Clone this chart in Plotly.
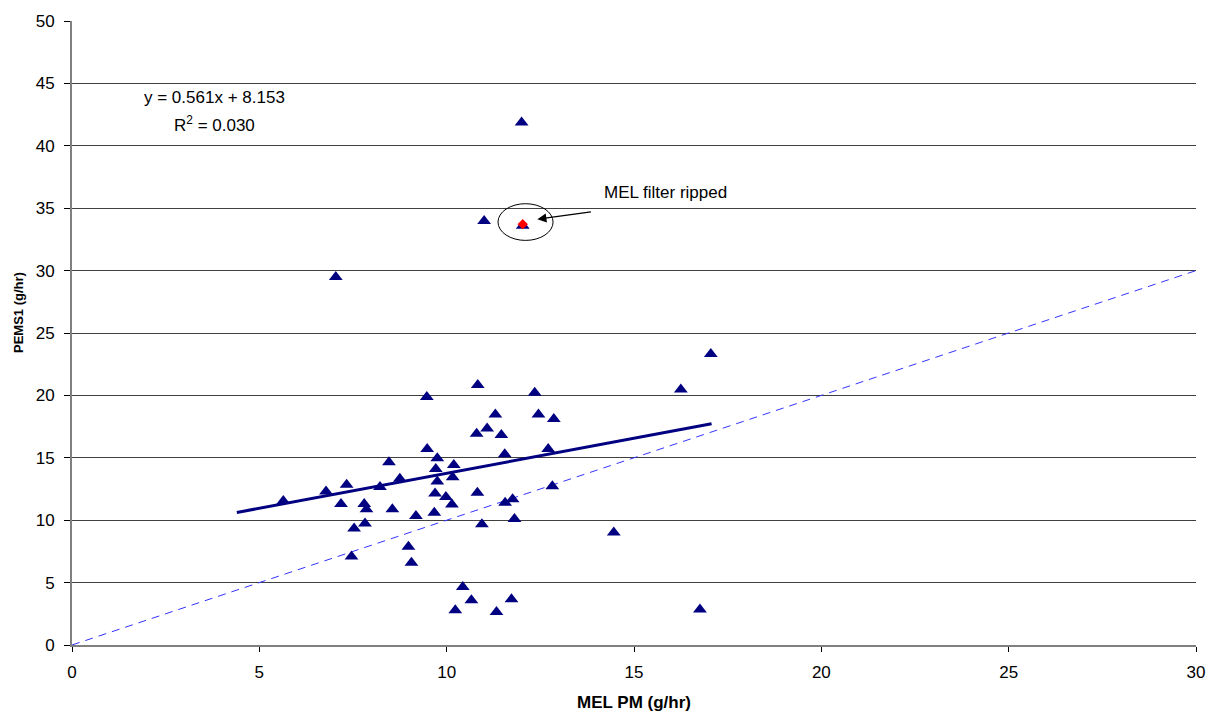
import plotly.graph_objects as go

# MEL PM vs PEMS1 particulate mass rate (g/hr)
mel_pm = [5.64, 6.78, 7.33, 7.18, 7.80, 7.86, 7.53, 7.82, 8.22, 8.46,
          8.55, 8.75, 9.18, 9.47, 9.48, 9.75, 9.71, 9.75, 9.69, 9.98,
          10.14, 9.67, 10.19, 10.16, 10.83, 10.80, 11.08, 11.30, 10.82, 10.94,
          12.35, 12.45, 12.86, 11.46, 11.55, 12.71, 12.82, 11.56, 11.76, 11.81,
          14.46, 7.46, 8.98, 9.06, 10.43, 10.66, 10.23, 11.33, 11.73, 17.05,
          16.25, 16.76, 12.00, 11.00, 12.03, 7.04]
pems1 = [11.54, 12.30, 12.85, 11.30, 11.30, 10.87, 9.33, 9.73, 12.67, 14.65,
         10.87, 13.33, 10.33, 19.87, 15.70, 14.97, 14.10, 13.10, 12.14, 11.86,
         11.26, 10.60, 14.42, 13.45, 20.83, 16.93, 17.35, 18.47, 12.19, 9.67,
         20.22, 18.47, 18.10, 16.83, 15.29, 15.71, 12.72, 11.40, 11.68, 10.10,
         9.02, 7.10, 7.87, 6.60, 4.64, 3.58, 2.78, 2.65, 3.66, 23.32,
         20.48, 2.84, 41.87, 33.97, 33.60, 29.49]

# Test flagged because the MEL filter ripped
ripped_x = [12.03]
ripped_y = [33.72]

# Linear trendline
slope = 0.561
intercept = 8.153
r_squared = 0.030
trend_x = [4.40, 17.07]
trend_y = [slope * v + intercept for v in trend_x]

# 1:1 reference line
parity = [0, 30]

x_ticks = [0, 5, 10, 15, 20, 25, 30]
y_ticks = [0, 5, 10, 15, 20, 25, 30, 35, 40, 45, 50]

FONT = "Liberation Sans, Arial, sans-serif"
NAVY = "#000080"

fig = go.Figure()

fig.add_trace(go.Scatter(
    x=parity, y=parity, mode="lines",
    line=dict(color="#3333ff", width=1, dash="8px,6px"),
    hoverinfo="skip", showlegend=False))

fig.add_trace(go.Scatter(
    x=trend_x, y=trend_y, mode="lines",
    line=dict(color=NAVY, width=3),
    hoverinfo="skip", showlegend=False))

fig.add_trace(go.Scatter(
    x=mel_pm, y=pems1, mode="markers",
    marker=dict(symbol="triangle-up", size=12, color=NAVY),
    showlegend=False))

fig.add_trace(go.Scatter(
    x=ripped_x, y=ripped_y, mode="markers",
    marker=dict(symbol="diamond", size=8, color="#ff0000"),
    showlegend=False))

# circle around the ripped-filter point
fig.add_shape(type="circle", xref="x", yref="y",
              x0=11.37, x1=12.84, y0=32.42, y1=35.36,
              line=dict(color="black", width=1))

annotations = [
    dict(x=13.85, y=34.71, ax=12.38, ay=34.10, xref="x", yref="y",
         axref="x", ayref="y", text="", showarrow=True,
         arrowhead=0, arrowwidth=1.3, arrowcolor="black", startarrowhead=2,
         arrowside="start", startarrowsize=1.4),
    dict(x=15.83, y=36.24, xref="x", yref="y", text="MEL filter ripped",
         showarrow=False, font=dict(size=17, color="black", family=FONT)),
    dict(x=3.79, y=43.88, xref="x", yref="y",
         text=f"y = {slope:.3f}x + {intercept:.3f}",
         showarrow=False, font=dict(size=17, color="black", family=FONT)),
    dict(x=3.79, y=41.73, xref="x", yref="y",
         text=f"R<sup>2</sup> = {r_squared:.3f}",
         showarrow=False, font=dict(size=17, color="black", family=FONT)),
    dict(x=0.5, y=0, xref="paper", yref="paper", yshift=-57,
         xanchor="center", yanchor="middle",
         text="<b>MEL PM (g/hr)</b>", showarrow=False,
         font=dict(size=17, color="black", family=FONT)),
    dict(x=0, y=0.532, xref="paper", yref="paper", xshift=-54,
         xanchor="center", yanchor="middle",
         text="<b>PEMS1 (g/hr)</b>", textangle=-90, showarrow=False,
         font=dict(size=13, color="black", family=FONT)),
]

fig.update_layout(
    width=1219, height=717,
    margin=dict(l=72, r=23, t=16, b=72),
    paper_bgcolor="white", plot_bgcolor="white",
    font=dict(family=FONT, size=17, color="black"),
    annotations=annotations,
    xaxis=dict(range=[0, 30], tickvals=x_ticks, showgrid=False,
               zeroline=False, showline=True, linecolor="#808080",
               linewidth=2, ticks="outside", ticklen=5, tickcolor="black",
               ticklabelstandoff=6, tickfont=dict(size=17)),
    yaxis=dict(range=[0, 50], tickvals=y_ticks, showgrid=True,
               gridcolor="#404040", gridwidth=1, zeroline=False,
               showline=True, linecolor="#808080", linewidth=2,
               ticks="outside", ticklen=6, tickcolor="black",
               ticklabelstandoff=6, tickfont=dict(size=17)),
)

fig.write_html("out.html")
